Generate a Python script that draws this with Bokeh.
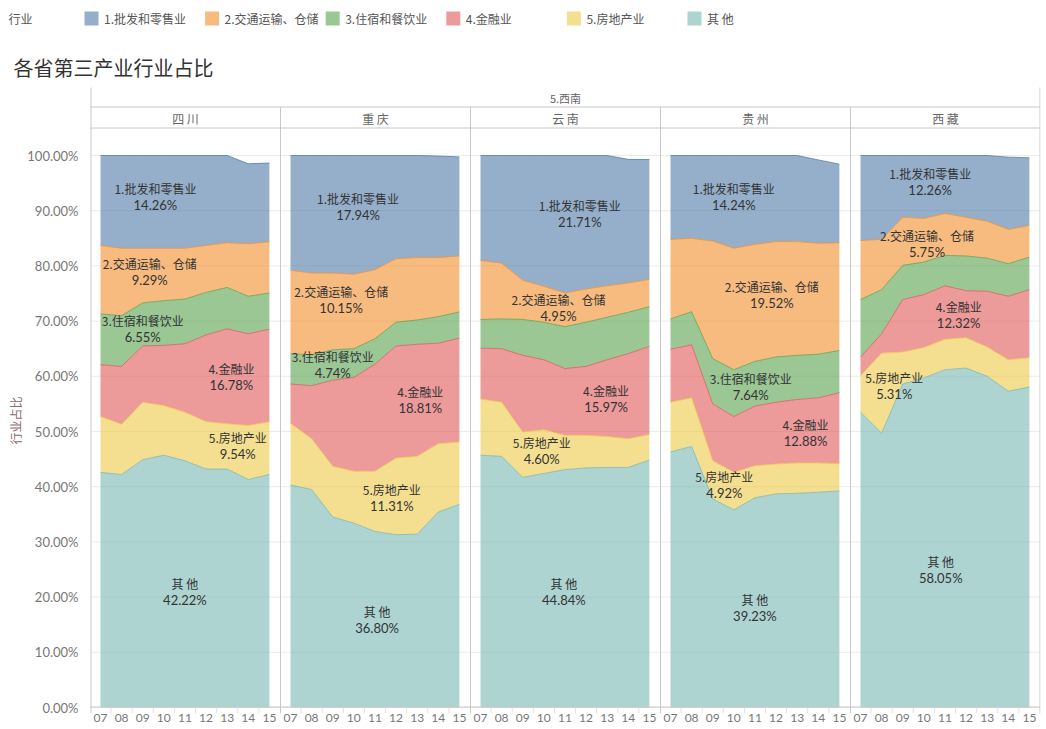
import numpy as np
from bokeh.plotting import figure
from bokeh.models import Range1d, FixedTicker, NumeralTickFormatter, ColumnDataSource
from bokeh.core.properties import value
from bokeh.embed import file_html
from bokeh.resources import INLINE

# ---------------- data ----------------
years = ["07", "08", "09", "10", "11", "12", "13", "14", "15"]
provinces = ["四川", "重庆", "云南", "贵州", "西藏"]
province_headers = ["四 川", "重 庆", "云 南", "贵 州", "西 藏"]
region_header = "5.西南"
legend_title = "行业"
chart_title = "各省第三产业行业占比"
y_title = "行业占比"
categories = ["1.批发和零售业", "2.交通运输、仓储", "3.住宿和餐饮业", "4.金融业", "5.房地产业", "其 他"]
colors = ["#4E79A7", "#F28E2B", "#59A14F", "#E15759", "#EDC948", "#76B7B2"]

# shares in percent, years 07..15
sichuan_wholesale = [16.3, 16.8, 16.8, 16.8, 16.8, 16.3, 15.8, 14.5, 14.26]
sichuan_transport = [12.4, 12.2, 9.9, 9.5, 9.2, 8.5, 8.1, 9.5, 9.29]
sichuan_hotel     = [9.2, 9.2, 7.8, 8.1, 8.1, 7.7, 7.5, 6.8, 6.55]
sichuan_finance   = [9.4, 10.5, 10.2, 10.9, 12.4, 15.7, 17.2, 16.6, 16.78]
sichuan_estate    = [10.1, 9.1, 10.4, 9.0, 8.8, 8.6, 8.2, 9.8, 9.54]
sichuan_other     = [42.6, 42.2, 44.9, 45.7, 44.7, 43.2, 43.2, 41.3, 42.22]

chongqing_wholesale = [20.8, 21.3, 21.3, 21.5, 20.7, 18.7, 18.5, 18.4, 17.94]
chongqing_transport = [15.1, 14.8, 13.9, 13.5, 12.5, 11.5, 11.3, 10.7, 10.15]
chongqing_hotel     = [5.5, 5.6, 5.5, 5.2, 4.6, 4.3, 4.4, 4.8, 4.74]
chongqing_finance   = [7.1, 9.6, 15.6, 17.0, 19.4, 20.3, 20.3, 18.2, 18.81]
chongqing_estate    = [11.2, 9.2, 9.2, 9.4, 10.9, 13.9, 14.1, 12.4, 11.31]
chongqing_other     = [40.3, 39.5, 34.5, 33.4, 31.9, 31.3, 31.4, 35.4, 36.80]

yunnan_wholesale = [19.0, 19.5, 22.6, 23.7, 24.9, 24.2, 23.6, 22.4, 21.71]
yunnan_transport = [10.7, 10.1, 7.1, 6.5, 6.1, 6.0, 5.7, 5.3, 4.95]
yunnan_hotel     = [5.2, 5.4, 6.5, 6.8, 7.6, 8.0, 7.7, 7.5, 7.2]
yunnan_finance   = [9.2, 9.7, 13.9, 12.7, 12.1, 12.5, 13.9, 15.4, 15.97]
yunnan_estate    = [10.2, 9.8, 8.2, 7.9, 6.2, 5.9, 5.6, 5.2, 4.60]
yunnan_other     = [45.7, 45.5, 41.7, 42.4, 43.1, 43.4, 43.5, 43.5, 44.84]

guizhou_wholesale = [15.2, 15.0, 15.5, 16.8, 16.1, 15.6, 15.6, 15.1, 14.24]
guizhou_transport = [14.4, 13.3, 21.3, 22.0, 21.2, 20.9, 20.6, 20.1, 19.52]
guizhou_hotel     = [5.5, 6.0, 8.2, 8.5, 8.1, 8.2, 8.0, 7.9, 7.64]
guizhou_finance   = [9.6, 9.6, 10.3, 10.1, 10.8, 11.2, 11.5, 11.8, 12.88]
guizhou_estate    = [9.0, 8.8, 6.9, 6.8, 5.8, 5.4, 5.5, 5.3, 4.92]
guizhou_other     = [46.3, 47.3, 37.8, 35.8, 38.0, 38.7, 38.8, 39.0, 39.23]

xizang_wholesale = [15.4, 15.2, 11.2, 11.4, 10.5, 11.2, 11.9, 13.1, 12.26]
xizang_transport = [10.7, 9.1, 8.7, 7.9, 7.6, 7.0, 6.7, 6.2, 5.75]
xizang_hotel     = [10.4, 8.0, 6.2, 5.9, 5.5, 6.3, 6.0, 5.9, 5.9]
xizang_finance   = [3.4, 3.5, 9.5, 9.6, 9.7, 8.5, 10.1, 11.5, 12.32]
xizang_estate    = [6.6, 14.5, 5.8, 5.5, 5.5, 5.5, 5.3, 5.7, 5.31]
xizang_other     = [53.5, 49.7, 58.6, 59.7, 61.2, 61.5, 60.0, 57.3, 58.05]

province_series = [
    [sichuan_wholesale, sichuan_transport, sichuan_hotel, sichuan_finance, sichuan_estate, sichuan_other],
    [chongqing_wholesale, chongqing_transport, chongqing_hotel, chongqing_finance, chongqing_estate, chongqing_other],
    [yunnan_wholesale, yunnan_transport, yunnan_hotel, yunnan_finance, yunnan_estate, yunnan_other],
    [guizhou_wholesale, guizhou_transport, guizhou_hotel, guizhou_finance, guizhou_estate, guizhou_other],
    [xizang_wholesale, xizang_transport, xizang_hotel, xizang_finance, xizang_estate, xizang_other],
]

# ---------------- layout / style ----------------
# label placement per panel: (category index, x position in year index, fraction within band)
label_layout = [
    [(0, 2.6, .56), (1, 2.33, .57), (2, 2.0, .41), (3, 6.2, .5), (4, 6.5, .58), (5, 4.0, .47)],
    [(0, 3.2, .57), (1, 2.4, .66), (2, 2.0, .5), (3, 6.15, .5), (4, 4.8, .5), (5, 4.1, .5)],
    [(0, 4.7, .57), (1, 3.7, .53), (3, 5.95, .5), (4, 2.9, .54), (5, 3.95, .49)],
    [(0, 3.0, .56), (1, 4.8, .55), (2, 3.8, .47), (3, 6.4, .47), (4, 2.55, .55), (5, 4.0, .475)],
    [(0, 3.3, .57), (1, 3.15, .4), (3, 4.65, .48), (4, 1.6, .36), (5, 3.8, .41)],
]

W, H = 1046, 729
PLOT_LEFT = 90                         # left edge of the panels
PLOT_RIGHT = 1040
STRIP_TOP = 87                         # top of the panel-header strip
ZERO_Y = 707                           # pixel row of 0 %
FRAME_BOTTOM = 713                     # frame reaches a little below 0 % so the 0 % label is not cut
TOP100 = 155                           # pixel row of 100 %
PX100 = ZERO_Y - TOP100
PANEL = 9                              # data units per panel
XW = 5 * PANEL
SX = (PLOT_RIGHT - PLOT_LEFT) / XW     # px per data unit (x)
PAD = 10 / SX                          # left padding inside a panel (data units)
LINE_C = "#c8c8c8"
CJK = "Noto Sans CJK SC"
NUM = "Lato"


def dy(py):
    return (ZERO_Y - py) / PX100


def dx(px):
    return -PAD + (px - PLOT_LEFT) / SX


p = figure(width=W, height=H, x_range=Range1d(dx(0), dx(PLOT_RIGHT)),
           y_range=Range1d(dy(FRAME_BOTTOM), dy(0)),
           output_backend="svg", toolbar_location=None, title=None,
           min_border_left=0, min_border_right=W - PLOT_RIGHT,
           min_border_top=0, min_border_bottom=H - FRAME_BOTTOM)
p.outline_line_color = None
p.xgrid.visible = False
p.ygrid.visible = False

x_lo, x_hi = dx(PLOT_LEFT), dx(PLOT_RIGHT)
y_bot = dy(FRAME_BOTTOM)

# ---- horizontal grid lines (10 % steps) ----
grid_y = [i / 10 for i in range(11)]
p.segment(x0=[x_lo] * len(grid_y), y0=grid_y, x1=[x_hi] * len(grid_y), y1=grid_y,
          line_color="#ebebeb", line_width=1)

# ---- stacked areas ----
xs_base = np.arange(len(years), dtype=float)
lab_x, lab_y, lab_name, lab_pct = [], [], [], []
for j, series in enumerate(province_series):
    xs = j * PANEL + xs_base
    lower = np.zeros(len(years))
    bands = {}
    for k in reversed(range(len(categories))):
        upper = lower + np.array(series[k]) / 100.0
        p.varea(x=xs, y1=lower, y2=upper, fill_color=colors[k], fill_alpha=0.6)
        bands[k] = (lower, upper)
        lower = upper
    for k in reversed(range(len(categories))):
        p.line(xs, bands[k][1], line_color=colors[k], line_alpha=0.75, line_width=1)
    for (k, lx, frac) in label_layout[j]:
        lo = np.interp(lx, xs_base, bands[k][0])
        up = np.interp(lx, xs_base, bands[k][1])
        lab_x.append(j * PANEL + lx)
        lab_y.append(lo + frac * (up - lo))
        lab_name.append(categories[k])
        lab_pct.append(f"{series[k][-1]:.2f}%")

src = ColumnDataSource(dict(x=lab_x, y=lab_y, name=lab_name, pct=lab_pct))
p.text(x="x", y="y", text="name", source=src, text_font=value(CJK), text_font_size="12px",
       text_color="#333333", text_align="center", text_baseline="middle", y_offset=-8)
p.text(x="x", y="y", text="pct", source=src, text_font=value(NUM), text_font_size="13px",
       text_color="#333333", text_align="center", text_baseline="middle", y_offset=8.5)

# ---- panel header strips & panel borders ----
p.segment(x0=[x_lo, x_lo, x_lo], y0=[dy(106.5), dy(127.5), dy(ZERO_Y - 0.5)],
          x1=[x_hi, x_hi, x_hi], y1=[dy(106.5), dy(127.5), dy(ZERO_Y - 0.5)],
          line_color=LINE_C, line_width=1)
sep = [j * PANEL - PAD for j in range(1, 5)]
p.segment(x0=sep, y0=[dy(106.5)] * 4, x1=sep, y1=[y_bot] * 4, line_color=LINE_C, line_width=1)
p.segment(x0=[dx(PLOT_LEFT + 0.5), dx(PLOT_RIGHT - 0.5)], y0=[dy(STRIP_TOP)] * 2,
          x1=[dx(PLOT_LEFT + 0.5), dx(PLOT_RIGHT - 0.5)], y1=[y_bot, y_bot],
          line_color=LINE_C, line_width=1)
p.text(x=[(x_lo + x_hi) / 2], y=[dy(97)], text=[region_header], text_font=value(CJK),
       text_font_size="11px", text_color="#666666", text_baseline="middle", text_align="center")
p.text(x=[j * PANEL - PAD + PANEL / 2 for j in range(5)], y=[dy(117.5)] * 5, text=province_headers,
       text_font=value(CJK), text_font_size="12px", text_color="#666666",
       text_baseline="middle", text_align="center")

# ---- small separators between the year labels ----
minor = [j * PANEL + i + 0.5 for j in range(5) for i in range(len(years) - 1)]
p.segment(x0=minor, y0=[dy(ZERO_Y)] * len(minor), x1=minor, y1=[y_bot] * len(minor),
          line_color="#e0e0e0", line_width=1)

# ---- legend, title, y title ----
sw_left = [84 + 120.6 * k for k in range(len(categories))]
p.text(x=[dx(8)], y=[dy(18)], text=[legend_title], text_font=value(CJK), text_font_size="12px",
       text_color="#555555", text_baseline="middle", text_align="left")
p.scatter(x=[dx(s + 7) for s in sw_left], y=[dy(18)] * len(categories), marker="square", size=14,
          fill_color=colors, fill_alpha=0.6, line_color=None)
p.text(x=[dx(s + 19.5) for s in sw_left], y=[dy(18)] * len(categories), text=categories,
       text_font=value(CJK), text_font_size="12px", text_color="#555555",
       text_baseline="middle", text_align="left")
p.text(x=[dx(13)], y=[dy(67)], text=[chart_title], text_font=value(CJK), text_font_size="20px",
       text_color="#333333", text_baseline="middle", text_align="left")
p.text(x=[dx(15)], y=[dy(420)], text=[y_title], angle=np.pi / 2, text_font=value(CJK),
       text_font_size="12px", text_color="#8a6a6a", text_baseline="middle", text_align="center")

# ---- y axis (drawn at the panels' left edge) ----
p.yaxis.fixed_location = x_lo
p.yaxis.ticker = FixedTicker(ticks=grid_y)
p.yaxis.formatter = NumeralTickFormatter(format="0.00%")
p.yaxis.major_label_text_font = NUM
p.yaxis.major_label_text_font_size = "13px"
p.yaxis.major_label_text_color = "#777777"
p.yaxis.major_tick_line_color = None
p.yaxis.minor_tick_line_color = None
p.yaxis.axis_line_color = None
p.yaxis.major_label_standoff = 6

# ---- x axis ----
ticks = [j * PANEL + i for j in range(5) for i in range(len(years))]
p.xaxis.ticker = FixedTicker(ticks=ticks)
p.xaxis.major_label_overrides = {j * PANEL + i: years[i] for j in range(5) for i in range(len(years))}
p.xaxis.major_label_text_font = NUM
p.xaxis.major_label_text_font_size = "12px"
p.xaxis.major_label_text_color = "#777777"
p.xaxis.major_tick_line_color = None
p.xaxis.major_tick_out = 0
p.xaxis.major_tick_in = 0
p.xaxis.major_label_standoff = 0
p.xaxis.minor_tick_line_color = None
p.xaxis.axis_line_color = None

open("out.html", "w").write(file_html(p, INLINE))
